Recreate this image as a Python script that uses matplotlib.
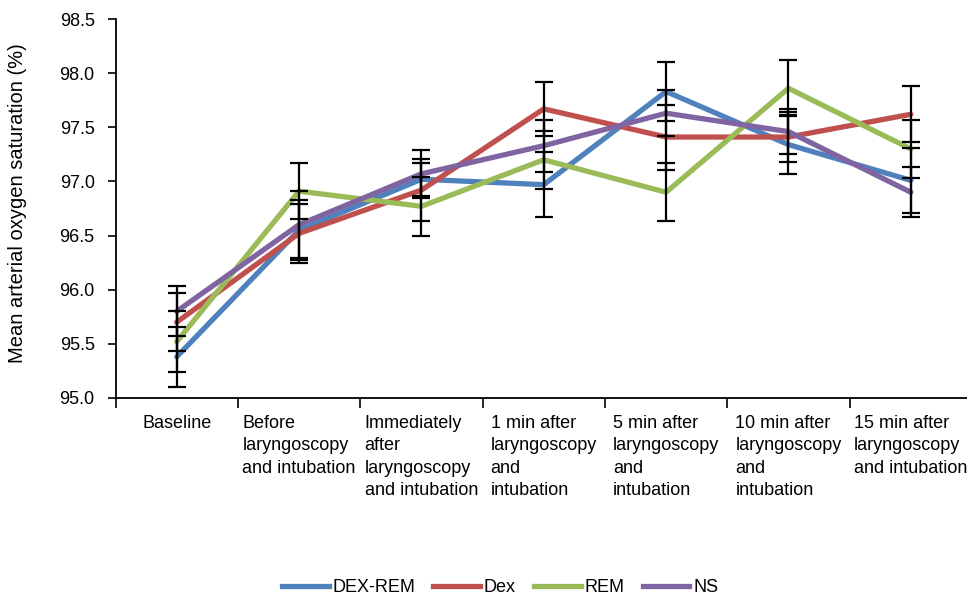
import matplotlib
matplotlib.use("Agg")
import matplotlib.pyplot as plt
from matplotlib.lines import Line2D

# categories on the x axis
time_points = [
    "Baseline",
    "Before\nlaryngoscopy\nand intubation",
    "Immediately\nafter\nlaryngoscopy\nand intubation",
    "1 min after\nlaryngoscopy\nand\nintubation",
    "5 min after\nlaryngoscopy\nand\nintubation",
    "10 min after\nlaryngoscopy\nand\nintubation",
    "15 min after\nlaryngoscopy\nand intubation",
]

# mean SpO2 (%) per group
dex_rem = [95.38, 96.55, 97.02, 96.97, 97.83, 97.34, 97.01]
dex = [95.70, 96.52, 96.92, 97.67, 97.41, 97.41, 97.62]
rem = [95.52, 96.91, 96.77, 97.20, 96.90, 97.86, 97.30]
ns = [95.80, 96.60, 97.07, 97.33, 97.63, 97.46, 96.90]

# error bar half-widths
dex_rem_sd = [0.28, 0.28, 0.15, 0.30, 0.27, 0.27, 0.30]
dex_sd = [0.27, 0.27, 0.29, 0.25, 0.30, 0.23, 0.26]
rem_sd = [0.28, 0.26, 0.27, 0.27, 0.27, 0.26, 0.27]
ns_sd = [0.23, 0.31, 0.22, 0.24, 0.21, 0.21, 0.23]

group_names = ["DEX-REM", "Dex", "REM", "NS"]
y_ticks = [95.0, 95.5, 96.0, 96.5, 97.0, 97.5, 98.0, 98.5]

plt.rcParams["font.family"] = ["Liberation Sans", "DejaVu Sans"]

W, H = 967, 598
fig = plt.figure(figsize=(W / 100, H / 100), dpi=100)
ax = fig.add_axes([115.5 / W, (H - 398) / H, (972 - 115.5) / W, 379 / H])

colors = ["#4F81BD", "#C0504D", "#9BBB59", "#8064A2"]
series = [dex_rem, dex, rem, ns]
errs = [dex_rem_sd, dex_sd, rem_sd, ns_sd]
x = list(range(len(time_points)))

for vals, col in zip(series, colors):
    ax.plot(x, vals, color=col, lw=3.8, solid_capstyle="round", zorder=2)
for vals, e in zip(series, errs):
    ax.errorbar(x, vals, yerr=e, fmt="none", ecolor="black", elinewidth=1.6,
                capsize=6.5, capthick=1.6, zorder=3)

ax.set_xlim(-0.5, 6.5)
ax.set_ylim(95.0, 98.5)
ax.set_yticks(y_ticks)
ax.set_yticklabels([f"{t:.1f}" for t in y_ticks], fontsize=13)

# ticks on category boundaries, labels at category centres
ax.set_xticks([i - 0.5 for i in range(len(time_points) + 1)])
ax.set_xticklabels([])
ax.set_xticks(x, minor=True)
ax.set_xticklabels(time_points, minor=True, fontsize=13, multialignment="left",
                   linespacing=1.42)
ax.tick_params(axis="x", which="minor", length=0, pad=12)
ax.tick_params(axis="x", which="major", length=7, width=1.2, direction="out")
ax.tick_params(axis="y", length=6, width=1.2, direction="out", pad=9)

for s in ["top", "right"]:
    ax.spines[s].set_visible(False)
for s in ["left", "bottom"]:
    ax.spines[s].set_linewidth(1.3)

fig.text(18 / W, 1 - 203 / H, "Mean arterial oxygen saturation (%)", rotation=90,
         ha="center", va="center", fontsize=14.5)

handles = [Line2D([], [], color=c, lw=3.8) for c in colors]
fig.legend(handles, group_names, loc="center", bbox_to_anchor=(500 / W, 1 - 588 / H),
           ncol=4, frameon=False, fontsize=13, handlelength=2.6, handletextpad=0.2,
           columnspacing=1.0)

fig.savefig("out.png", dpi=100)
